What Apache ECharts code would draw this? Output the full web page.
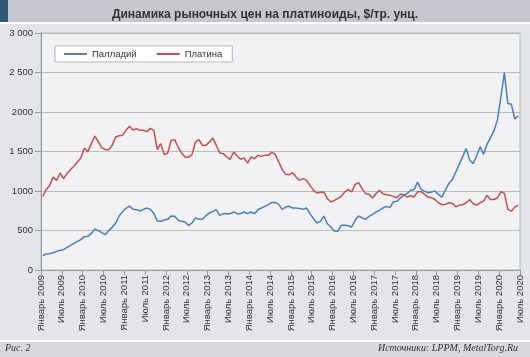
<!DOCTYPE html>
<html><head><meta charset="utf-8">
<script src="https://cdn.jsdelivr.net/npm/echarts@6/dist/echarts.min.js"></script>
<style>html,body{margin:0;padding:0;background:#e4e5e8}#c{width:530px;height:357px}</style>
</head><body><div id="c"></div>
<script>
// Monthly averages, January 2009 .. June 2020 (138 months)
const palladium = [
  181,203,207,219,236,249,257,287,312,338,363,384,
  422,426,464,519,498,473,447,498,540,591,684,738,
  781,810,768,764,747,768,785,768,717,620,616,633,
  641,683,679,629,616,607,565,595,658,641,641,688,
  721,742,764,692,713,713,713,734,713,713,734,713,
  734,713,764,785,806,827,856,856,831,768,797,806,
  785,785,780,768,785,713,650,595,616,683,586,544,
  494,489,565,565,561,544,629,683,662,641,679,704,
  734,755,785,806,789,861,869,912,945,970,1010,1018,
  1113,1020,999,978,986,999,957,923,1012,1096,1147,1240,
  1337,1435,1536,1392,1346,1443,1561,1464,1591,1676,1760,1900,
  2190,2500,2107,2099,1911,1953
];
const platinum = [
  932,1017,1070,1177,1135,1228,1156,1220,1270,1316,1367,1418,
  1544,1498,1600,1696,1624,1548,1523,1523,1578,1684,1700,1705,
  1768,1819,1772,1789,1768,1768,1751,1793,1768,1523,1600,1460,
  1481,1641,1650,1557,1481,1430,1426,1460,1620,1650,1578,1578,
  1620,1671,1578,1481,1473,1430,1401,1494,1443,1401,1418,1354,
  1430,1409,1451,1439,1451,1451,1494,1460,1367,1270,1211,1207,
  1232,1177,1135,1156,1135,1072,1008,975,983,987,903,861,
  882,903,932,987,1021,987,1084,1105,1030,966,958,911,
  966,1008,966,953,945,932,915,960,957,923,940,923,
  991,991,957,923,914,893,851,826,830,851,843,800,
  822,826,851,893,838,822,851,872,944,893,893,914,
  991,969,767,745,796,822
];
const seriesNames = ['Палладий', 'Платина'];
const xTickLabels = [
  'Январь 2009','Июль 2009','Январь 2010','Июль 2010','Январь 2011','Июль 2011',
  'Январь 2012','Июль 2012','Январь 2013','Июль 2013','Январь 2014','Июль 2014',
  'Январь 2015','Июль 2015','Январь 2016','Июль 2016','Январь 2017','Июль 2017',
  'Январь 2018','Июль 2018','Январь 2019','Июль 2019','Январь 2020','Июль 2020'
];
const yTickLabels = ['0','500','1000','1 500','2000','2 500','3 000'];
const titleText = 'Динамика рыночных цен на платиноиды, $/тр. унц.';
const figText = 'Рис. 2';
const sourceText = 'Источники: LPPM, MetalTorg.Ru';

const chart = echarts.init(document.getElementById('c'), null, {renderer: 'canvas'});
const sans = 'Liberation Sans, Arial, sans-serif';
const toPts = arr => arr.map((v, i) => [i + 0.5, v]);

chart.setOption({
  backgroundColor: '#e4e5e8',
  animation: false,
  graphic: [
    {type: 'rect', left: 0, top: 0, shape: {width: 530, height: 22}, style: {fill: '#c6c6ce'}, z: 0},
    {type: 'rect', left: 0, top: 0, shape: {width: 8, height: 22}, style: {fill: '#2e5873'}, z: 1},
    {type: 'rect', left: 0, top: 22, shape: {width: 530, height: 2}, style: {fill: '#ffffff'}, z: 0},
    {type: 'rect', left: 0, top: 340, shape: {width: 530, height: 2}, style: {fill: '#ffffff'}, z: 0},
    {type: 'rect', left: 0, top: 342, shape: {width: 530, height: 15}, style: {fill: '#d8d9dd'}, z: 0},
    {type: 'text', left: 5, top: 343, style: {text: figText, font: 'italic 10px "Liberation Serif", serif', fill: '#333'}, z: 2},
    {type: 'text', right: 12, top: 343, style: {text: sourceText, font: 'italic 10px "Liberation Serif", serif', fill: '#333'}, z: 2}
  ],
  title: {
    text: titleText, left: 'center', top: 4,
    textStyle: {fontSize: 12, fontWeight: 'bold', color: '#333', fontFamily: sans}
  },
  legend: {
    data: seriesNames,
    left: 55, top: 46,
    backgroundColor: '#ffffff', borderColor: '#b4b4b4', borderWidth: 1, borderRadius: 0,
    padding: [3, 10, 3, 9],
    icon: 'rect', itemWidth: 23, itemHeight: 2, itemGap: 20,
    textStyle: {fontSize: 9.5, color: '#333', fontFamily: sans}
  },
  grid: {
    left: 41, top: 33, right: 10, bottom: 87,
    show: true, backgroundColor: '#f2f2f5', borderColor: '#b8b8b8', borderWidth: 1,
    outerBoundsMode: 'none'
  },
  xAxis: {
    type: 'value', min: 0, max: 138, interval: 6,
    axisLine: {show: true, lineStyle: {color: '#9a9a9a', width: 1}},
    axisTick: {show: true, length: 5, lineStyle: {color: '#9a9a9a'}},
    splitLine: {show: false},
    axisLabel: {
      rotate: 90, margin: 5, fontSize: 9.5, color: '#333', fontFamily: sans,
      formatter: v => xTickLabels[Math.round(v / 6)]
    }
  },
  yAxis: {
    type: 'value', min: 0, max: 3000, interval: 500,
    axisLine: {show: true, lineStyle: {color: '#9a9a9a', width: 1}},
    axisTick: {show: true, length: 6, lineStyle: {color: '#9a9a9a'}},
    splitLine: {show: true, lineStyle: {color: '#bdbdbd', width: 1}},
    axisLabel: {
      margin: 8, fontSize: 9.5, color: '#333', fontFamily: sans,
      formatter: v => yTickLabels[Math.round(v / 500)]
    }
  },
  series: [
    {name: seriesNames[0], type: 'line', data: toPts(palladium), showSymbol: false,
     lineStyle: {color: '#4a7fc2', width: 1.5}, itemStyle: {color: '#4a7fc2'}, z: 3},
    {name: seriesNames[1], type: 'line', data: toPts(platinum), showSymbol: false,
     lineStyle: {color: '#c94f4c', width: 1.5}, itemStyle: {color: '#c94f4c'}, z: 2}
  ]
});
</script>
</body></html>
